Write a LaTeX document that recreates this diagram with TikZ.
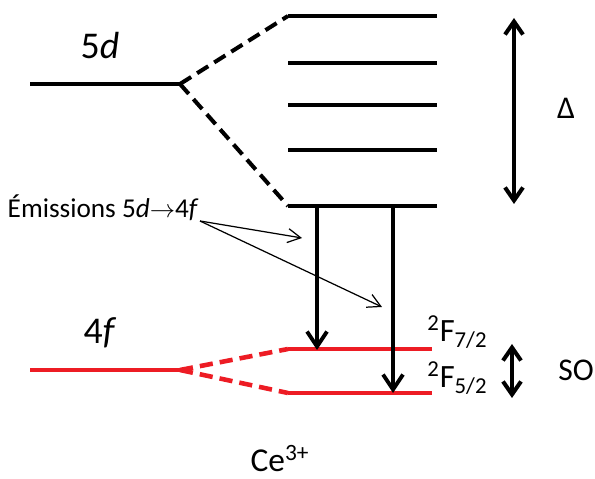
\documentclass[tikz,border=0pt]{standalone}
\usepackage{fontspec}
\setmainfont{Carlito}
\usetikzlibrary{arrows.meta, positioning}
\definecolor{levelred}{RGB}{237,28,36}

\begin{document}
\begin{tikzpicture}[
    x=0.02cm, y=-0.02cm,
    level/.style={line width=2.3pt},
    redlevel/.style={line width=2.6pt, color=levelred},
    split/.style={line width=2.3pt, dash pattern=on 7.5pt off 4pt},
    redsplit/.style={line width=2.6pt, color=levelred, dash pattern=on 7.5pt off 4pt},
    emit/.style={-{Straight Barb[length=3mm, width=4mm]}, line width=2.2pt},
    gap/.style={{Straight Barb[length=2.6mm, width=3.6mm]}-{Straight Barb[length=2.6mm, width=3.6mm]}, line width=2.3pt},
    pointer/.style={-{Straight Barb[length=2.6mm, width=2.8mm]}, line width=0.7pt},
    lbl/.style={font=\fontsize{18}{20}\selectfont, inner sep=0pt},
]
\useasboundingbox (0,0) rectangle (595,479);
% 5d levels
\coordinate (d0) at (30,84);
\coordinate (dc) at (180,84);
\foreach \i/\y in {1/16, 2/63, 3/105, 4/150, 5/206} {
    \coordinate (dl\i) at (288,\y);
    \coordinate (dr\i) at (437,\y);
    \draw[level] (dl\i) -- (dr\i);
}
\draw[level] (d0) -- (dc);
\draw[split] (dc) -- (dl1);
\draw[split] (dc) -- (dl5);
\node[lbl, font=\fontsize{21.5}{24}\selectfont] (dname) at (100,46) {5\textit{d}};

% 4f levels
\coordinate (f0) at (30,370);
\coordinate (fc) at (180,370);
\coordinate (fl1) at (288,349);
\coordinate (fr1) at (432,349);
\coordinate (fl2) at (288,393);
\coordinate (fr2) at (432,393);
\draw[redlevel] (f0) -- (fc);
\draw[redlevel] (fl1) -- (fr1);
\draw[redlevel] (fl2) -- (fr2);
\draw[redsplit] (fc) -- (fl1);
\draw[redsplit] (fc) -- (fl2);
\node[lbl, font=\fontsize{21.5}{24}\selectfont] (fname) at (100,333) {4\textit{f}};

% term labels
\node[lbl, font=\fontsize{18.5}{20}\selectfont, anchor=west] (t72) at (427,332) {\textsuperscript{2}F\textsubscript{7/2}};
\node[lbl, font=\fontsize{18.5}{20}\selectfont, anchor=west] (t52) at (427,378) {\textsuperscript{2}F\textsubscript{5/2}};

% emissions
\coordinate (e1) at (317,206);
\coordinate (e2) at (393,206);
\draw[emit] (e1) -- (317,350);
\draw[emit] (e2) -- (393,393);

% splittings
\coordinate (da) at (514,18);
\coordinate (db) at (514,204);
\draw[gap] (da) -- (db);
\node[lbl] (delta) at (566,108) {Δ};
\coordinate (sa) at (512,344);
\coordinate (sb) at (512,398);
\draw[gap] (sa) -- (sb);
\node[lbl] (so) at (576,370) {SO};

% annotation
\node[lbl, font=\fontsize{15.5}{18}\selectfont, anchor=east] (emis) at (199,208) {Émissions 5\textit{d}$\rightarrow$4\textit{f}};
\coordinate (p0) at (200,221);
\draw[pointer] (p0) -- (302,238);
\draw[pointer] (p0) -- (382,307);

\node[lbl, font=\fontsize{19}{21}\selectfont] (ion) at (280,459) {Ce\textsuperscript{3+}};
\end{tikzpicture}
\end{document}
